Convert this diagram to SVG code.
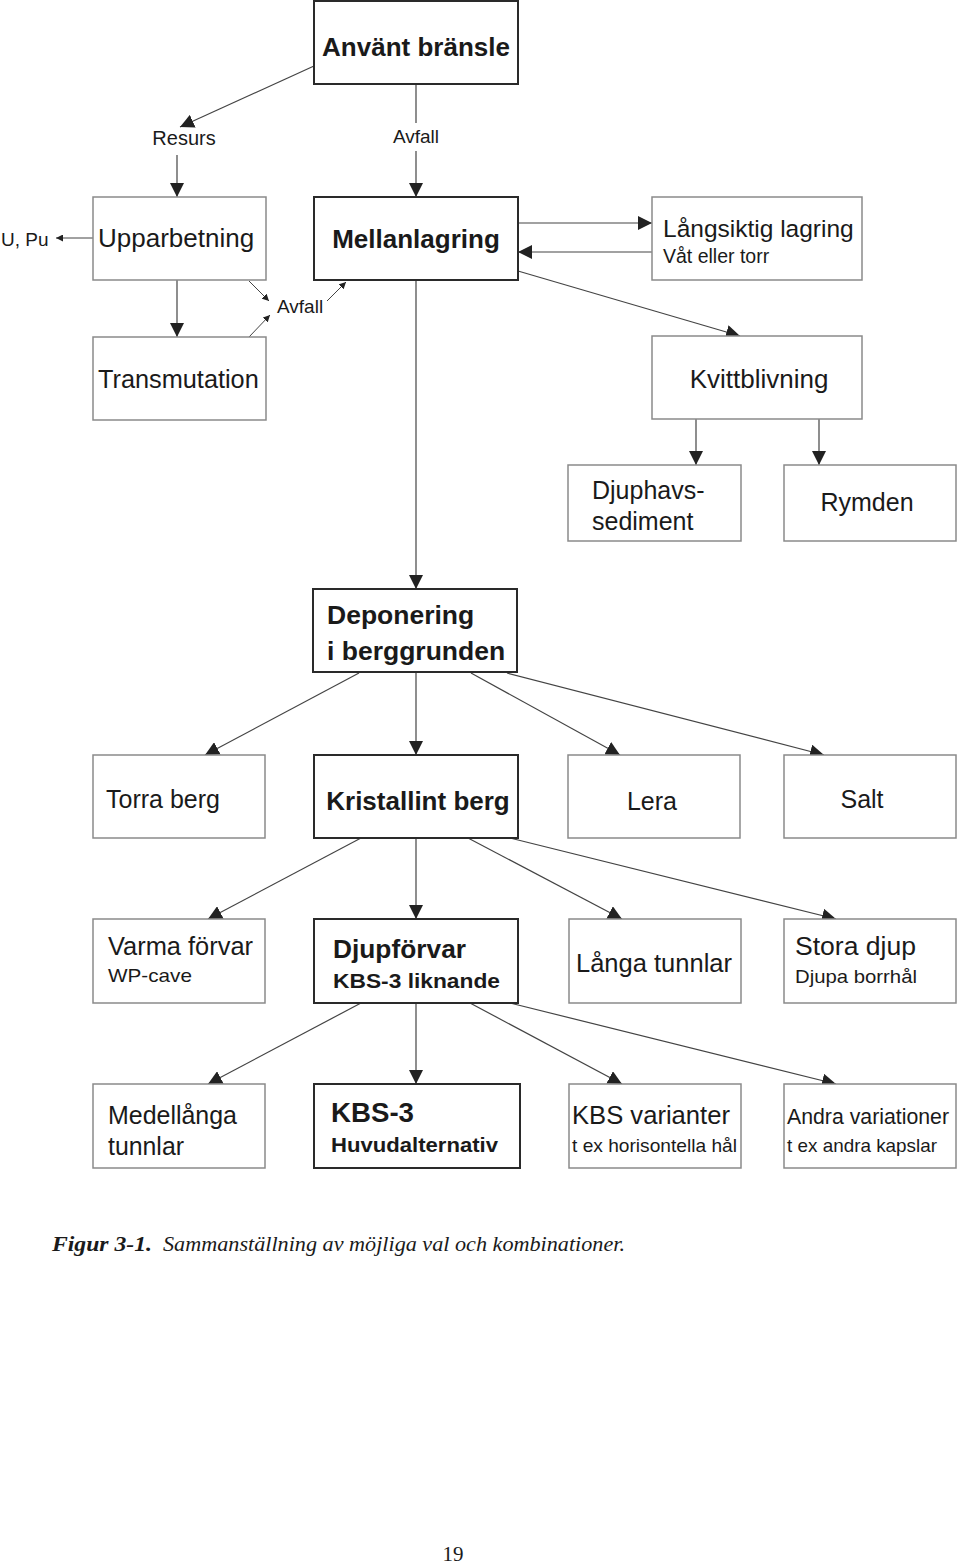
<svg xmlns="http://www.w3.org/2000/svg" width="960" height="1563" viewBox="0 0 960 1563">
<style>
text{font-family:"Liberation Sans",Arial,sans-serif;fill:#1a1a1a}
.b{font-weight:bold}
.box{fill:#fff;stroke:#8a8a8a;stroke-width:1.5}
.bbox{fill:#fff;stroke:#2a2a2a;stroke-width:2}
.c{stroke:#444;stroke-width:1.2;fill:none}
.cs{stroke:#444;stroke-width:1;fill:none}
.cap{font-family:"Liberation Serif","Times New Roman",serif;font-style:italic;font-size:22px}
.pg{font-family:"Liberation Serif","Times New Roman",serif;font-size:21px}
</style>
<defs>
<marker id="ah" viewBox="0 0 12 12" refX="12" refY="6" markerWidth="14" markerHeight="14" markerUnits="userSpaceOnUse" orient="auto"><path d="M0,0 L12,6 L0,12 z" fill="#222"/></marker>
<marker id="as" viewBox="0 0 12 12" refX="12" refY="6" markerWidth="7" markerHeight="7" markerUnits="userSpaceOnUse" orient="auto"><path d="M0,0 L12,6 L0,12 z" fill="#222"/></marker>
</defs>
<rect width="960" height="1563" fill="#fff"/>
<g id="connectors">
<line class="c" x1="314" y1="66" x2="180" y2="127" marker-end="url(#ah)"/>
<line class="c" x1="177" y1="155" x2="177" y2="197" marker-end="url(#ah)"/>
<line class="c" x1="416" y1="84" x2="416" y2="123"/>
<line class="c" x1="416" y1="151" x2="416" y2="197" marker-end="url(#ah)"/>
<line class="cs" x1="93" y1="238" x2="56" y2="238" marker-end="url(#as)"/>
<line class="c" x1="177" y1="280" x2="177" y2="337" marker-end="url(#ah)"/>
<line class="cs" x1="249" y1="281" x2="269" y2="301" marker-end="url(#as)"/>
<line class="cs" x1="249" y1="337" x2="270" y2="315" marker-end="url(#as)"/>
<line class="cs" x1="327" y1="301" x2="346" y2="282" marker-end="url(#as)"/>
<line class="c" x1="518" y1="223" x2="652" y2="223" marker-end="url(#ah)"/>
<line class="c" x1="652" y1="252" x2="518" y2="252" marker-end="url(#ah)"/>
<line class="c" x1="518" y1="271" x2="740" y2="336" marker-end="url(#ah)"/>
<line class="c" x1="696" y1="419" x2="696" y2="465" marker-end="url(#ah)"/>
<line class="c" x1="819" y1="419" x2="819" y2="465" marker-end="url(#ah)"/>
<line class="c" x1="416" y1="280" x2="416" y2="589" marker-end="url(#ah)"/>
<line class="c" x1="359" y1="673" x2="205" y2="755" marker-end="url(#ah)"/>
<line class="c" x1="416" y1="673" x2="416" y2="755" marker-end="url(#ah)"/>
<line class="c" x1="471" y1="673" x2="620" y2="755" marker-end="url(#ah)"/>
<line class="c" x1="507" y1="673" x2="824" y2="755" marker-end="url(#ah)"/>
<line class="c" x1="361" y1="838" x2="208" y2="919" marker-end="url(#ah)"/>
<line class="c" x1="416" y1="838" x2="416" y2="919" marker-end="url(#ah)"/>
<line class="c" x1="468" y1="838" x2="622" y2="919" marker-end="url(#ah)"/>
<line class="c" x1="510" y1="838" x2="836" y2="919" marker-end="url(#ah)"/>
<line class="c" x1="361" y1="1003" x2="208" y2="1084" marker-end="url(#ah)"/>
<line class="c" x1="416" y1="1003" x2="416" y2="1084" marker-end="url(#ah)"/>
<line class="c" x1="470" y1="1003" x2="622" y2="1084" marker-end="url(#ah)"/>
<line class="c" x1="510" y1="1003" x2="836" y2="1084" marker-end="url(#ah)"/>
</g>
<g id="labels">
<text x="184" y="145" font-size="20" text-anchor="middle">Resurs</text>
<text x="416" y="143" font-size="19" text-anchor="middle">Avfall</text>
<text x="1" y="246" font-size="19">U, Pu</text>
<text x="277" y="313" font-size="19">Avfall</text>
</g>
<g id="n-anvant"><rect class="bbox" x="314" y="1" width="204" height="83"/><text class="b" x="416" y="56" font-size="26" text-anchor="middle">Använt bränsle</text></g>
<g id="n-upparbetning"><rect class="box" x="93" y="197" width="173" height="83"/><text x="98" y="247" font-size="26">Upparbetning</text></g>
<g id="n-mellanlagring"><rect class="bbox" x="314" y="197" width="204" height="83"/><text class="b" x="416" y="248" font-size="26" text-anchor="middle">Mellanlagring</text></g>
<g id="n-langsiktig"><rect class="box" x="652" y="197" width="210" height="83"/><text x="663" y="237" font-size="24.5">Långsiktig lagring</text><text x="663" y="263" font-size="19.5">Våt eller torr</text></g>
<g id="n-transmutation"><rect class="box" x="93" y="337" width="173" height="83"/><text x="98" y="388" font-size="25.3">Transmutation</text></g>
<g id="n-kvitt"><rect class="box" x="652" y="336" width="210" height="83"/><text x="759" y="388" font-size="26" text-anchor="middle">Kvittblivning</text></g>
<g id="n-djuphavs"><rect class="box" x="568" y="465" width="173" height="76"/><text x="592" y="499" font-size="25">Djuphavs-</text><text x="592" y="530" font-size="25">sediment</text></g>
<g id="n-rymden"><rect class="box" x="784" y="465" width="172" height="76"/><text x="867" y="511" font-size="25" text-anchor="middle">Rymden</text></g>
<g id="n-deponering"><rect class="bbox" x="313" y="589" width="204" height="83"/><text class="b" x="327" y="624" font-size="26.5">Deponering</text><text class="b" x="327" y="660" font-size="26.5">i berggrunden</text></g>
<g id="n-torra"><rect class="box" x="93" y="755" width="172" height="83"/><text x="106" y="808" font-size="25">Torra berg</text></g>
<g id="n-kristallint"><rect class="bbox" x="314" y="755" width="204" height="83"/><text class="b" x="418" y="810" font-size="26" text-anchor="middle">Kristallint berg</text></g>
<g id="n-lera"><rect class="box" x="568" y="755" width="172" height="83"/><text x="652" y="810" font-size="25" text-anchor="middle">Lera</text></g>
<g id="n-salt"><rect class="box" x="784" y="755" width="172" height="83"/><text x="862" y="808" font-size="25" text-anchor="middle">Salt</text></g>
<g id="n-varma"><rect class="box" x="93" y="919" width="172" height="84"/><text x="108" y="955" font-size="25" textLength="145" lengthAdjust="spacingAndGlyphs">Varma förvar</text><text x="108" y="982" font-size="19" textLength="84" lengthAdjust="spacingAndGlyphs">WP-cave</text></g>
<g id="n-djupforvar"><rect class="bbox" x="314" y="919" width="204" height="84"/><text class="b" x="333" y="958" font-size="26" textLength="133" lengthAdjust="spacingAndGlyphs">Djupförvar</text><text class="b" x="333" y="988" font-size="21" textLength="167" lengthAdjust="spacingAndGlyphs">KBS-3 liknande</text></g>
<g id="n-langa"><rect class="box" x="569" y="919" width="172" height="84"/><text x="576" y="972" font-size="25" textLength="156" lengthAdjust="spacingAndGlyphs">Långa tunnlar</text></g>
<g id="n-stora"><rect class="box" x="784" y="919" width="172" height="84"/><text x="795" y="955" font-size="25" textLength="121" lengthAdjust="spacingAndGlyphs">Stora djup</text><text x="795" y="983" font-size="19" textLength="122" lengthAdjust="spacingAndGlyphs">Djupa borrhål</text></g>
<g id="n-medel"><rect class="box" x="93" y="1084" width="172" height="84"/><text x="108" y="1124" font-size="25" textLength="129" lengthAdjust="spacingAndGlyphs">Medellånga</text><text x="108" y="1155" font-size="25" textLength="76" lengthAdjust="spacingAndGlyphs">tunnlar</text></g>
<g id="n-kbs3"><rect class="bbox" x="314" y="1084" width="206" height="84"/><text class="b" x="331" y="1122" font-size="27" textLength="83" lengthAdjust="spacingAndGlyphs">KBS-3</text><text class="b" x="331" y="1152" font-size="21" textLength="167" lengthAdjust="spacingAndGlyphs">Huvudalternativ</text></g>
<g id="n-kbsvar"><rect class="box" x="569" y="1084" width="172" height="84"/><text x="572" y="1124" font-size="25" textLength="158" lengthAdjust="spacingAndGlyphs">KBS varianter</text><text x="572" y="1152" font-size="19" textLength="165" lengthAdjust="spacingAndGlyphs">t ex horisontella hål</text></g>
<g id="n-andra"><rect class="box" x="784" y="1084" width="172" height="84"/><text x="787" y="1124" font-size="22" textLength="162" lengthAdjust="spacingAndGlyphs">Andra variationer</text><text x="787" y="1152" font-size="19" textLength="150" lengthAdjust="spacingAndGlyphs">t ex andra kapslar</text></g>
<g id="caption"><text class="cap" x="52" y="1251"><tspan font-weight="bold" textLength="100" lengthAdjust="spacingAndGlyphs">Figur 3-1.</tspan><tspan x="163" textLength="462" lengthAdjust="spacingAndGlyphs">Sammanställning av möjliga val och kombinationer.</tspan></text></g>
<text class="pg" x="453" y="1561" text-anchor="middle">19</text>
</svg>
